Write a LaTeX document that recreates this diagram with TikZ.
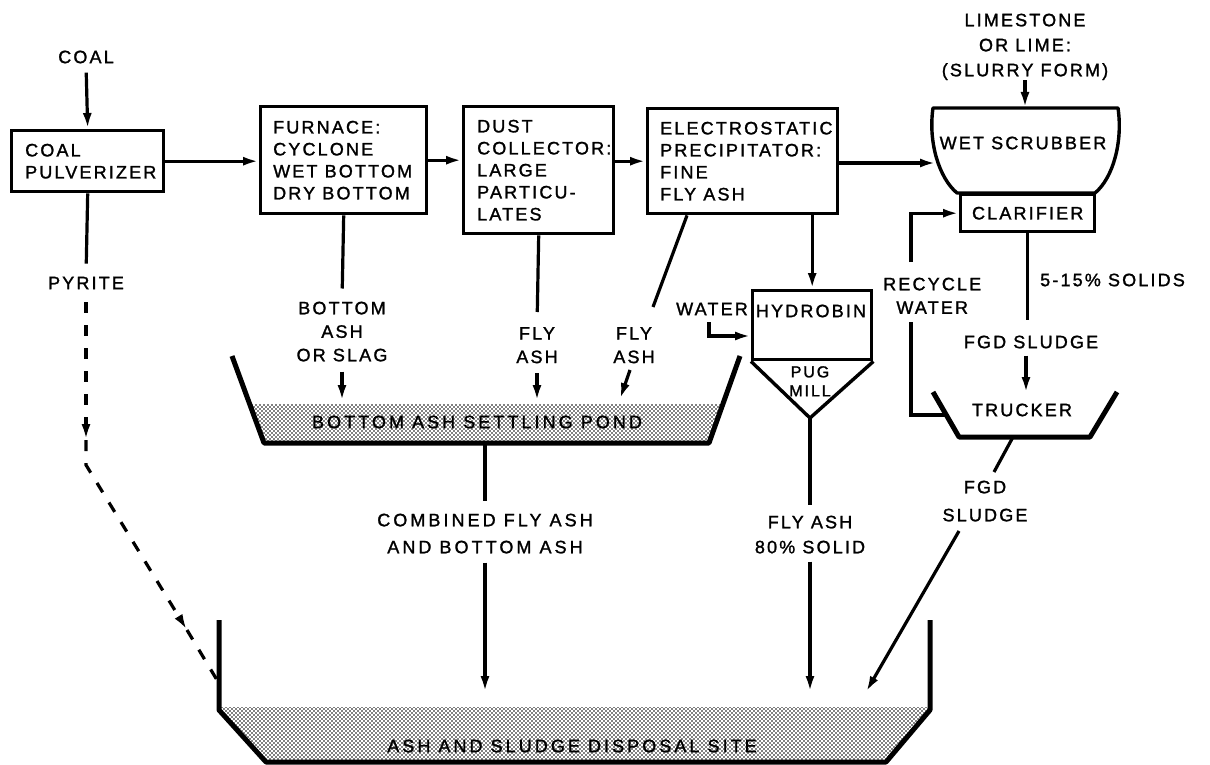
\documentclass[tikz,border=0pt]{standalone}
\usepackage{fontspec}
\setmainfont{Liberation Sans}[LetterSpace=12,FakeBold=1.4]
\newfontfamily\widefont{Liberation Sans}[LetterSpace=17,FakeBold=1.4]
\usetikzlibrary{arrows.meta,patterns}
\pgfdeclarepatternformonly{pdots}{\pgfqpoint{-1pt}{-1pt}}{\pgfqpoint{3pt}{3pt}}{\pgfqpoint{4pt}{4pt}}{%
  \pgfpathcircle{\pgfqpoint{0pt}{0pt}}{0.95pt}%
  \pgfpathcircle{\pgfqpoint{2pt}{2pt}}{0.95pt}%
  \pgfusepath{fill}}
\begin{document}
\begin{tikzpicture}[x=1pt,y=-1pt,
  ahead/.style={-{Latex[length=16pt,width=9pt]}},
  ln/.style={line width=3.2pt},
  arr/.style={line width=3.2pt,ahead},
  dsh/.style={line width=3.2pt,dash pattern=on 11pt off 12pt},
  pbox/.style={draw,line width=3.4pt,inner sep=0pt,anchor=north west},
  wall/.style={line width=5pt,line join=round},
  dotfill/.style={pattern=pdots},
  lbl/.style={inner sep=0pt,font=\fontsize{18}{23.5}\selectfont,align=center},
  widelbl/.style={inner sep=0pt,font=\widefont\fontsize{18}{27}\selectfont,align=center},
  btxt/.style={inner sep=0pt,font=\fontsize{18}{22}\selectfont,align=left,anchor=west},
  smalllbl/.style={inner sep=0pt,font=\fontsize{16}{19}\selectfont,align=center}]
\useasboundingbox (0,0) rectangle (1210,765);
\fill[white] (0,0) rectangle (1210,765);

% ---------- top row ----------
\node[lbl] (coal) at (86,57) {COAL};
\node[pbox,minimum width=152pt,minimum height=61pt] (pulv) at (10,129) {};
\node[btxt] (pulvT) at ([xshift=15pt]pulv.west) {COAL\\PULVERIZER};

\node[pbox,minimum width=166pt,minimum height=107pt] (furn) at (259,105) {};
\node[btxt] (furnT) at ([xshift=14pt]furn.west) {FURNACE:\\CYCLONE\\WET BOTTOM\\DRY BOTTOM};

\node[pbox,minimum width=150pt,minimum height=127pt] (dust) at (462,105) {};
\node[btxt] (dustT) at ([xshift=15pt]dust.west) {DUST\\COLLECTOR:\\LARGE\\PARTICU-\\LATES};

\node[pbox,minimum width=190pt,minimum height=105pt] (esp) at (646,107) {};
\node[btxt] (espT) at ([xshift=14pt]esp.west) {ELECTROSTATIC\\PRECIPITATOR:\\FINE\\FLY ASH};

% wet scrubber and clarifier
\draw[line width=3.4pt,line join=round] (933,108) -- (1118,108)
  .. controls (1123,142) and (1113,178) .. (1095,193) -- (957,193)
  .. controls (939,178) and (928,142) .. (933,108) -- cycle;
\node[lbl] (scrub) at (1023,143) {WET SCRUBBER};
\coordinate (scrubW) at (936,163);
\coordinate (scrubN) at (1025,108);
\node[pbox,minimum width=134pt,minimum height=37pt,font=\fontsize{18}{22}\selectfont] (clar) at (959,193) {CLARIFIER};
\node[lbl,anchor=north,font=\fontsize{18}{25}\selectfont] (lime) at (1025,13.5) {LIMESTONE\\OR LIME:\\(SLURRY FORM)};

% top connectors
\draw[arr,shorten <=9pt] (coal.south) -- (pulv.north);
\draw[arr] (pulv.east) -- (pulv.east -| furn.west);
\draw[arr] (furn.east) -- (furn.east -| dust.west);
\draw[arr] (esp.west -| dust.east) -- (esp.west);
\draw[arr] (esp.east |- scrubW) -- (scrubW);
\draw[arr] (lime.south) -- (scrubN);

% ---------- pyrite ----------
\node[lbl] (pyr) at (86,283) {PYRITE};
\coordinate (pd1) at (86,440);
\coordinate (pd2) at (86,465);
\coordinate (pd3) at (187,630);
\coordinate (pd4) at (217,680);
\draw[ln,shorten >=13pt] (pulv.south) -- (pyr.north);
\draw[dsh,ahead,shorten <=13pt] (pyr.south) -- (pd1);
\draw[dsh,ahead] (pd1) -- (pd2) -- (pd3);
\draw[dsh] (pd3) -- (pd4);

% ---------- settling pond ----------
\fill[dotfill] (251,404) -- (264,443) -- (709,443) -- (722,404) -- cycle;
\draw[wall] (232,356) -- (264,443) -- (709,443) -- (740,356);
\node[widelbl] (pondT) at (477,422) {BOTTOM ASH SETTLING POND};
\coordinate (pondA) at (342,401);
\coordinate (pondB) at (537,401);
\coordinate (pondC) at (620,399);
\coordinate (pondBot) at (485,443);

\node[lbl,anchor=north] (bott) at (342,301.5) {BOTTOM\\ASH\\OR SLAG};
\node[lbl,anchor=north] (fly1) at (537,327) {FLY\\ASH};
\node[lbl,anchor=north] (fly2) at (634,327) {FLY\\ASH};
\draw[ln,shorten >=13pt] (furn.south) -- (bott.north);
\draw[arr,shorten <=10pt] (bott.south) -- (pondA);
\draw[ln,shorten >=15pt] (dust.south) -- (fly1.north);
\draw[arr,shorten <=10pt] (fly1.south) -- (pondB);
\coordinate (e1) at (687,212);
\coordinate (e2) at (653,307);
\coordinate (e3) at (630,370);
\draw[ln] (esp.south -| e1) -- (e2);
\draw[arr] (e3) -- (pondC);

% ---------- hydrobin ----------
\node[pbox,minimum width=119pt,minimum height=69pt] (hyd) at (751,289) {};
\node[lbl] (hydT) at (811,311) {HYDROBIN};
\node[lbl] (water) at (712,309) {WATER};
\coordinate (w0) at (709,322);
\coordinate (wIn) at (751,336);
\draw[arr] (w0) |- (wIn);
\draw[arr] (esp.south -| hyd.north) -- (hyd.north);
\coordinate (funB) at (810,418);
\draw[line width=3.4pt,line join=round] (hyd.south west) -- (funB) -- (hyd.south east);
\node[smalllbl,anchor=north] (pug) at (810,366) {PUG\\MILL};

\node[lbl,anchor=north,font=\fontsize{18}{25}\selectfont] (fa80) at (810,515.5) {FLY ASH\\80\% SOLID};
\coordinate (dispB) at (810,692);
\draw[ln,shorten >=11pt] (funB) -- (fa80.north);
\draw[arr,shorten <=8pt] (fa80.south) -- (dispB);

% combined
\node[widelbl,anchor=north] (comb) at (485,513.5) {COMBINED FLY ASH\\AND BOTTOM ASH};
\coordinate (dispA) at (485,692);
\draw[ln,shorten >=13pt] (pondBot) -- (comb.north);
\draw[arr,shorten <=9pt] (comb.south) -- (dispA);

% ---------- clarifier / trucker ----------
\node[lbl,anchor=west] (sol) at (1040,280) {5-15\% SOLIDS};
\node[lbl] (fgd1) at (1031,342) {FGD SLUDGE};
\coordinate (trN) at (1026,393);
\draw[ln,shorten >=15pt] (clar.south) -- (clar.south |- fgd1.north);
\draw[arr,shorten <=7pt] (fgd1.south -| trN) -- (trN);

\draw[wall] (933,392) -- (959,437) -- (1090,437) -- (1117,392);
\node[lbl] (truck) at (1022,410) {TRUCKER};

\node[lbl,anchor=north west] (recy) at (883,277.5) {RECYCLE\\WATER};
\coordinate (r1) at (946,415);
\coordinate (r2) at (911,322);
\coordinate (r3) at (911,262);
\draw[ln] (r1) -| (r2);
\draw[arr] (r3) |- (clar.west);

\node[lbl,anchor=north,font=\fontsize{18}{28}\selectfont] (fgd2) at (985,480.5) {FGD\\SLUDGE};
\coordinate (tb1) at (1013,437);
\coordinate (tb2) at (994,472);
\coordinate (tb3) at (959,531);
\coordinate (dispC) at (866,692);
\draw[ln] (tb1) -- (tb2);
\draw[arr] (tb3) -- (dispC);

% ---------- disposal site ----------
\fill[dotfill] (219,707) -- (266,762) -- (886,762) -- (930,707) -- cycle;
\draw[wall] (219,620) -- (219,710) -- (266,762) -- (886,762) -- (930,710) -- (930,620);
\node[widelbl] (dispT) at (572,746) {ASH AND SLUDGE DISPOSAL SITE};
\end{tikzpicture}
\end{document}
